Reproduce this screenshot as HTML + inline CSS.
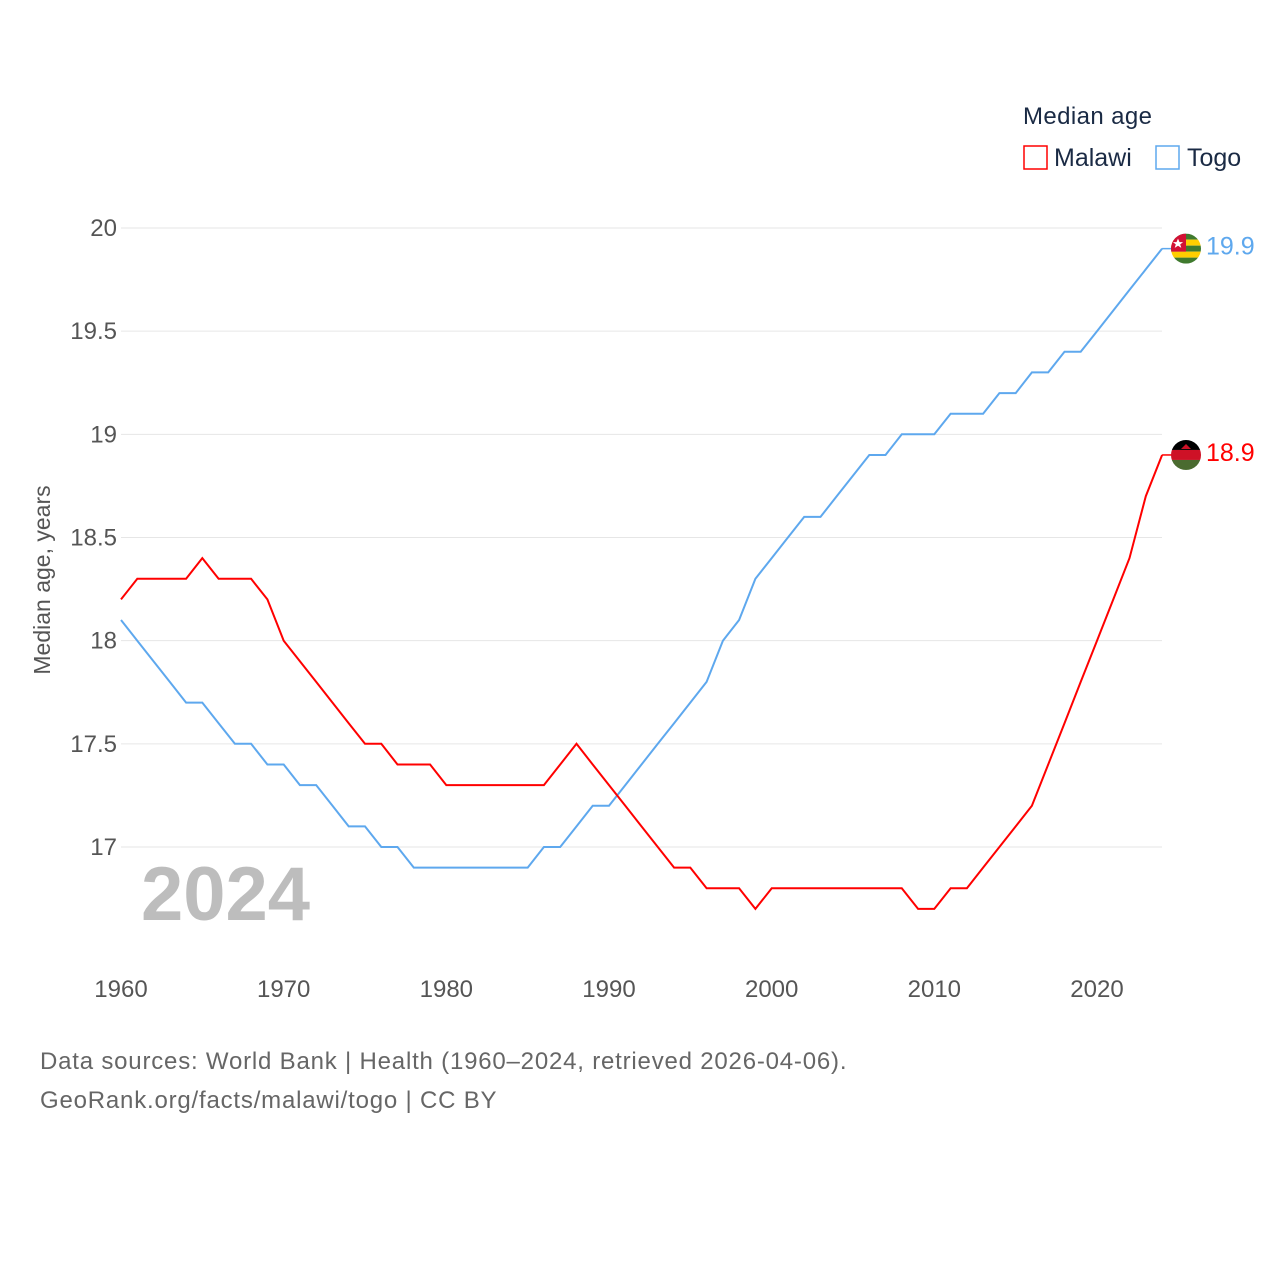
<!DOCTYPE html>
<html><head><meta charset="utf-8"><style>
body{margin:0;background:#fff;font-family:"Liberation Sans",sans-serif}
svg text{font-family:"Liberation Sans",sans-serif}
</style></head><body>
<svg id="chart" width="1280" height="1280">
<g id="grid"></g>
<g id="axes"></g>
<text x="141" y="920" font-size="76" font-weight="bold" fill="#bdbdbd">2024</text>
<text transform="translate(50,580) rotate(-90)" text-anchor="middle" font-size="23" fill="#555">Median age, years</text>
<text x="1023" y="124" font-size="24" letter-spacing="0.4" fill="#1a2a44">Median age</text>
<g><rect x="1024" y="146" width="23" height="23" fill="none" stroke="#ff0000" stroke-width="1.5"/><text x="1054" y="166" font-size="25" fill="#1a2a44">Malawi</text></g>
<g><rect x="1156" y="146" width="23" height="23" fill="none" stroke="#5ea8ee" stroke-width="1.5"/><text x="1187" y="166" font-size="25" fill="#1a2a44">Togo</text></g>
<g id="series"></g>
<text x="40" y="1069" font-size="24" letter-spacing="0.8" fill="#666">Data sources: World Bank | Health (1960–2024, retrieved 2026-04-06).</text>
<text x="40" y="1108" font-size="24" letter-spacing="0.8" fill="#666">GeoRank.org/facts/malawi/togo | CC BY</text>
</svg>
<script>
const years=[];for(let y=1960;y<=2024;y++)years.push(y);
const malawi=[18.2,18.3,18.3,18.3,18.3,18.4,18.3,18.3,18.3,18.2,18.0,17.9,17.8,17.7,17.6,17.5,17.5,17.4,17.4,17.4,17.3,17.3,17.3,17.3,17.3,17.3,17.3,17.4,17.5,17.4,17.3,17.2,17.1,17.0,16.9,16.9,16.8,16.8,16.8,16.7,16.8,16.8,16.8,16.8,16.8,16.8,16.8,16.8,16.8,16.7,16.7,16.8,16.8,16.9,17.0,17.1,17.2,17.4,17.6,17.8,18.0,18.2,18.4,18.7,18.9];
const togo=[18.1,18.0,17.9,17.8,17.7,17.7,17.6,17.5,17.5,17.4,17.4,17.3,17.3,17.2,17.1,17.1,17.0,17.0,16.9,16.9,16.9,16.9,16.9,16.9,16.9,16.9,17.0,17.0,17.1,17.2,17.2,17.3,17.4,17.5,17.6,17.7,17.8,18.0,18.1,18.3,18.4,18.5,18.6,18.6,18.7,18.8,18.9,18.9,19.0,19.0,19.0,19.1,19.1,19.1,19.2,19.2,19.3,19.3,19.4,19.4,19.5,19.6,19.7,19.8,19.9];
const yTicks=[17,17.5,18,18.5,19,19.5,20];
const xTicks=[1960,1970,1980,1990,2000,2010,2020];
const NS='http://www.w3.org/2000/svg';
const X=y=>121+(y-1960)*976/60;
const Y=v=>228+(20-v)*206.33;
function mk(tag,attrs,parent){const e=document.createElementNS(NS,tag);for(const k in attrs)e.setAttribute(k,attrs[k]);parent.appendChild(e);return e;}
const grid=document.getElementById('grid'),axes=document.getElementById('axes'),series=document.getElementById('series');
yTicks.forEach(v=>{
 const l=mk('line',{x1:121,x2:1162,y1:Y(v),y2:Y(v),stroke:'#e6e6e6','stroke-width':1},grid);
 
 
 const t=mk('text',{x:117,y:Y(v)+8,'text-anchor':'end','font-size':24,fill:'#555'},axes);
 t.textContent=String(v);
 
 
});
xTicks.forEach(v=>{
 const t=mk('text',{x:X(v),y:997,'text-anchor':'middle','font-size':24,fill:'#555'},axes);
 t.textContent=String(v);
 
 
});
function drawLine(vals,color,name){
 const d=vals.map((v,i)=>(i?'L':'M')+X(years[i]).toFixed(1)+','+Y(v).toFixed(1)).join(' ');
 const p=mk('path',{d:d,fill:'none',stroke:color,'stroke-width':2},series);
 
 
 const last=vals[vals.length-1],lx=X(years[years.length-1]),ly=Y(last);
 mk('line',{x1:lx,x2:lx+12,y1:ly,y2:ly,stroke:color,'stroke-width':1.5},series);
 const t=mk('text',{x:1206,y:ly+6,'font-size':25,fill:color},series);
 t.textContent=last.toFixed(1);
 
 
 return ly;
}
const ty=drawLine(togo,'#5ea8ee','togo');
const my=drawLine(malawi,'#ff0000','malawi');
const cx=1186;
const fg=mk('g',{},series);


mk('clipPath',{id:'c1'},fg);
mk('circle',{cx:cx,cy:ty,r:15},document.getElementById('c1'));
const gg=mk('g',{'clip-path':'url(#c1)'},fg);
for(let i=0;i<5;i++)mk('rect',{x:cx-15,y:ty-15+i*6,width:30,height:6,fill:i%2?'#ffce00':'#3f7a2e'},gg);
mk('rect',{x:cx-15,y:ty-15,width:15,height:18,fill:'#d21034'},gg);
mk('path',{d:`M${cx-8},${ty-10} l1.5,3.5 3.6,0 -2.9,2.2 1.1,3.6 -3.3,-2.2 -3.3,2.2 1.1,-3.6 -2.9,-2.2 3.6,0z`,fill:'#fff'},gg);
const mg=mk('g',{},series);


mk('clipPath',{id:'c2'},mg);
mk('circle',{cx:cx,cy:my,r:15},document.getElementById('c2'));
const g2=mk('g',{'clip-path':'url(#c2)'},mg);
mk('rect',{x:cx-15,y:my-15,width:30,height:10,fill:'#000'},g2);
mk('rect',{x:cx-15,y:my-5,width:30,height:10,fill:'#ce1126'},g2);
mk('rect',{x:cx-15,y:my+5,width:30,height:10,fill:'#4a6b30'},g2);
mk('path',{d:`M${cx-5},${my-6} L${cx},${my-11} L${cx+5},${my-6}Z`,fill:'#ce1126'},g2);
</script>
</body></html>
